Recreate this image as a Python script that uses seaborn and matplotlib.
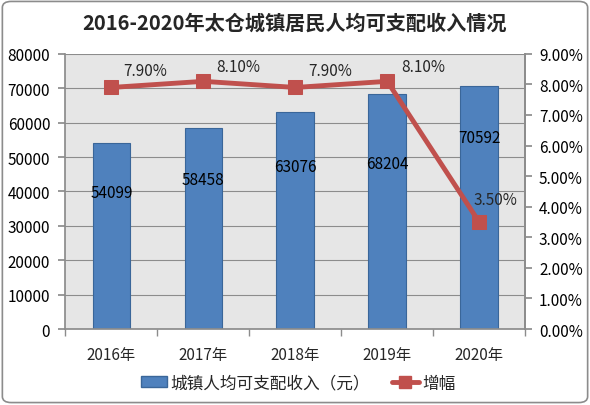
import matplotlib
matplotlib.use('Agg')
import matplotlib.pyplot as plt
from matplotlib.lines import Line2D
from matplotlib.patches import Patch, FancyBboxPatch
import seaborn as sns
import pandas as pd

# data
years = ['2016年', '2017年', '2018年', '2019年', '2020年']
income = [54099, 58458, 63076, 68204, 70592]
growth = [7.90, 8.10, 7.90, 8.10, 3.50]

bar_name = '城镇人均可支配收入（元）'
line_name = '增幅'
title = '2016-2020年太仓城镇居民人均可支配收入情况'

# where the value labels sit inside the bars (fraction of bar height)
label_frac = [0.735, 0.745, 0.75, 0.705, 0.79]
# offsets (points) of the percent labels from their markers
pct_offsets = [(24, 12), (25, 11), (25, 12), (26, 11), (12, 16)]

sns.set_theme(style='white')
plt.rcParams['font.family'] = ['Noto Sans CJK SC', 'DejaVu Sans']

df = pd.DataFrame({'year': years, 'income': income, 'growth': growth})

fig = plt.figure(figsize=(5.9, 4.06), dpi=100)
ax = fig.add_axes([0.111, 0.187, 0.779, 0.678])
ax.set_facecolor('#E6E6E6')

# outer rounded border
fig.patches.append(FancyBboxPatch((0.004, 0.006), 0.992, 0.988,
                                  boxstyle='round,pad=0,rounding_size=0.015',
                                  transform=fig.transFigure, fill=False,
                                  edgecolor='#8C8C8C', linewidth=1.2))

sns.barplot(data=df, x='year', y='income', ax=ax, color='#4F81BD',
            width=0.41, edgecolor='#3A6699', linewidth=0.8, saturation=1)
ax.set_ylim(0, 80000)
ax.set_yticks(range(0, 80001, 10000))
ax.set_xlim(-0.5, 4.5)
ax.grid(axis='y', color='#8C8C8C', linewidth=0.8)
ax.set_axisbelow(True)
ax.set_xlabel('')
ax.set_ylabel('')
ax.spines['top'].set_visible(False)
for s in ['left', 'bottom', 'right']:
    ax.spines[s].set_color('#8C8C8C')
ax.tick_params(axis='y', labelsize=11, colors='#8C8C8C', labelcolor='black',
               length=5, direction='out', left=True, pad=6)
ax.set_xticks(range(len(years)))
ax.set_xticks([i + 0.5 for i in range(-1, len(years))], minor=True)
ax.tick_params(axis='x', which='major', length=0, labelsize=11, pad=12)
ax.tick_params(axis='x', which='minor', length=5, color='#8C8C8C', bottom=True)

for i, v in enumerate(income):
    ax.text(i, v * label_frac[i], str(v), ha='center', va='center',
            fontsize=11, color='black')

ax2 = ax.twinx()
sns.lineplot(x=list(range(len(years))), y=growth, ax=ax2, color='#C0504D',
             linewidth=3.5, marker='s', markersize=10, markeredgecolor='#C0504D')
ax2.set_ylim(0, 9)
ax2.set_yticks(range(0, 10))
ax2.set_yticklabels([f'{t:.2f}%' for t in range(0, 10)])
ax2.tick_params(axis='y', labelsize=11, colors='#8C8C8C', labelcolor='black',
                length=5, direction='out', right=True, pad=5)
for s in ['top', 'left', 'bottom']:
    ax2.spines[s].set_visible(False)
ax2.spines['right'].set_color('#8C8C8C')
ax2.grid(False)

for i, g in enumerate(growth):
    ax2.annotate(f'{g:.2f}%', (i, g), xytext=pct_offsets[i], textcoords='offset points',
                 ha='center', va='center', fontsize=11)

fig.text(0.5, 0.944, title, ha='center', va='center', fontsize=14.5,
         fontweight='bold')

handles = [Patch(facecolor='#4F81BD', edgecolor='#3A6699'),
           Line2D([], [], color='#C0504D', linewidth=3.5, marker='s', markersize=8)]
fig.legend(handles, [bar_name, line_name], loc='center', bbox_to_anchor=(0.505, 0.054),
           ncol=2, frameon=False, fontsize=12, handlelength=1.6, columnspacing=1.3,
           handletextpad=0.2, handleheight=0.6)

fig.savefig('out.png', dpi=100)
